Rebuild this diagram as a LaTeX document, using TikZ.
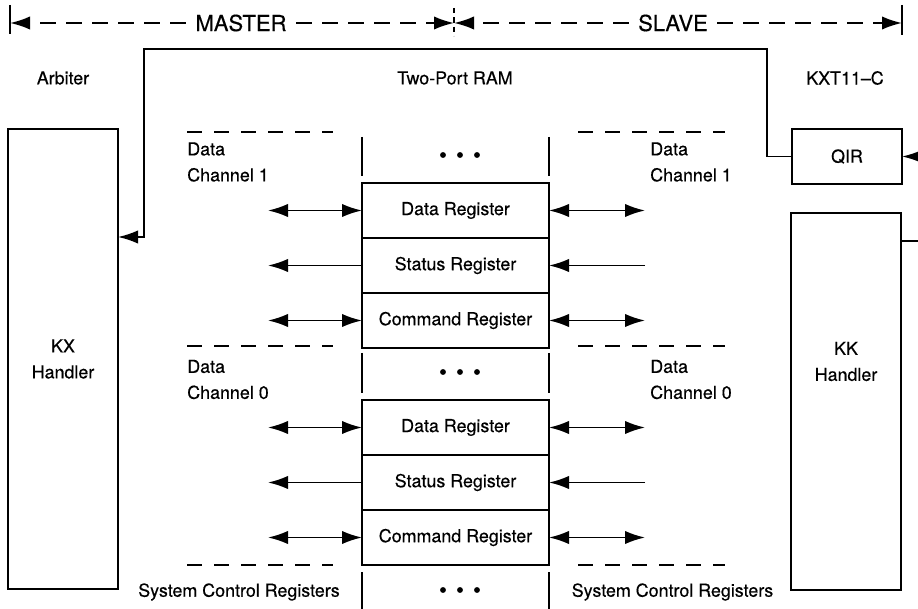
\documentclass[tikz,border=0pt]{standalone}
\usepackage{fontspec}
\setmainfont{TeX Gyre Heros}[FakeBold=0.4]
\usetikzlibrary{arrows.meta,positioning}
\tikzset{
	txt/.style={font=\fontsize{13.4}{19.5}\selectfont, inner sep=0pt},
	bigtxt/.style={font=\fontsize{16.5}{20}\selectfont, inner sep=7pt},
	block/.style={draw, line width=1.8pt, inner sep=0pt, outer sep=0pt, txt},
	regbox/.style={block, minimum width=140.25pt, minimum height=41.25pt},
	flow/.style={line width=1.3pt},
	biarrow/.style={flow, {Latex[length=15pt,width=10pt]}-{Latex[length=15pt,width=10pt]}},
	onearrow/.style={flow, -{Latex[length=15pt,width=10pt]}},
	span/.style={line width=1.5pt, dash pattern=on 12pt off 7.5pt, -{Latex[length=15pt,width=10pt]}},
	sepline/.style={line width=1.3pt, dash pattern=on 11.25pt off 9pt},
	divider/.style={line width=1.8pt}
}

\begin{document}
\begin{tikzpicture}[x=0.75pt, y=-0.75pt]
		%%%%% START %%%%%
		\useasboundingbox (0,0) rectangle (918,609);
		
		% master / slave span
		\coordinate (barl) at (10,23);
		\coordinate (barm) at (454,23);
		\coordinate (barr) at (902,23);
		\node[bigtxt] (master) at (241,23) {MASTER};
		\node[bigtxt] (slave) at (673,23) {SLAVE};
		\draw[span] (master.west) -- (barl);
		\draw[span] (master.east) -- (barm);
		\draw[span] (slave.west) -- (barm);
		\draw[span] (slave.east) -- (barr);
		\draw[line width=1.5pt] (10,5) -- (10,34);
		\draw[line width=1.3pt, dash pattern=on 4pt off 3pt] (454,8) -- (454,36);
		\draw[line width=1.5pt] (902,5) -- (902,35);
		
		\node[txt] (arbiter) at (63,78) {Arbiter};
		\node[txt] (ramtitle) at (455,78) {Two-Port RAM};
		\node[txt] (kxt) at (845,78) {KXT11--C};
		
		% handlers
		\node[block, minimum width=82.5pt, minimum height=345pt, align=center] (kx) at (63,359) {KX\\Handler};
		\node[block, minimum width=82.5pt, minimum height=282.75pt] (kk) at (846,401.5) {};
		\node[txt, align=center] (kktext) at (846,361.5) {KK\\Handler};
		\node[block, minimum width=82.5pt, minimum height=41.25pt] (qir) at (847,156.5) {QIR};
		
		% channel 1
		\node[regbox] (data1) at (455.5,210.5) {Data Register};
		\node[regbox, below=0pt of data1] (status1) {Status Register};
		\node[regbox, below=0pt of status1] (cmd1) {Command Register};
		
		% channel 0
		\node[regbox] (data0) at (455.5,427.5) {Data Register};
		\node[regbox, below=0pt of data0] (status0) {Status Register};
		\node[regbox, below=0pt of status0] (cmd0) {Command Register};
		
		\draw[divider] (362,137) -- (362,176);
		\draw[divider] (549,137) -- (549,176);
		\draw[divider] (362,353) -- (362,393);
		\draw[divider] (549,353) -- (549,393);
		\draw[divider] (362,572) -- (362,612);
		\draw[divider] (549,572) -- (549,612);
		
		\fill (443,155) circle (2.2pt);
		\fill (460,155) circle (2.2pt);
		\fill (477,155) circle (2.2pt);
		\fill (443,372) circle (2.2pt);
		\fill (460,372) circle (2.2pt);
		\fill (477,372) circle (2.2pt);
		\fill (443,590) circle (2.2pt);
		\fill (460,590) circle (2.2pt);
		\fill (477,590) circle (2.2pt);
		
		\draw[sepline] (187,132) -- (333,132);
		\draw[sepline] (578,132) -- (725,132);
		\draw[sepline] (187,346) -- (333,346);
		\draw[sepline] (578,346) -- (725,346);
		\draw[sepline] (187,565) -- (333,565);
		\draw[sepline] (578,565) -- (725,565);
		
		\node[txt, align=left, anchor=west] (ch1l) at (187,162) {Data\\Channel 1};
		\node[txt, align=left, anchor=west] (ch1r) at (650,162) {Data\\Channel 1};
		\node[txt, align=left, anchor=west] (ch0l) at (187,379.5) {Data\\Channel 0};
		\node[txt, align=left, anchor=west] (ch0r) at (650,379.5) {Data\\Channel 0};
		\node[txt] (sysl) at (239,592) {System Control Registers};
		\node[txt] (sysr) at (672.5,592) {System Control Registers};
		
		% register ports
		\draw[biarrow] (data1.west) -- ++(-94,0);
		\draw[biarrow] (data1.east) -- ++(96,0);
		\draw[onearrow] (status1.west) -- ++(-94,0);
		\draw[onearrow] (status1.east) ++(96,0) -- (status1.east);
		\draw[biarrow] (cmd1.west) -- ++(-94,0);
		\draw[biarrow] (cmd1.east) -- ++(96,0);
		
		\draw[biarrow] (data0.west) -- ++(-94,0);
		\draw[biarrow] (data0.east) -- ++(96,0);
		\draw[onearrow] (status0.west) -- ++(-94,0);
		\draw[onearrow] (status0.east) ++(96,0) -- (status0.east);
		\draw[biarrow] (cmd0.west) -- ++(-94,0);
		\draw[biarrow] (cmd0.east) -- ++(96,0);
		
		% interrupt wire
		\coordinate (arbin) at (0,237);
		\coordinate (slavein) at (918,156.5);
		\coordinate (kkout) at (918,241);
		\draw[onearrow] (qir.west) -- ++(-25,0) |- (144,49) |- (kx.east |- arbin);
		\draw[onearrow] (slavein) -- (qir.east);
		\draw[flow] (kk.east |- kkout) -- (kkout);
		
		%%%%% END %%%%%
	\end{tikzpicture}
\end{document}
